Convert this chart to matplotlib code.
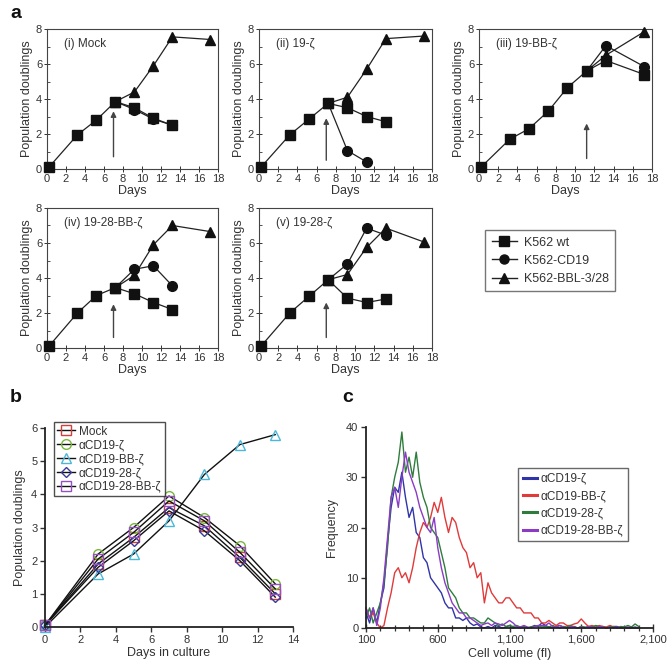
import numpy as np
import matplotlib.pyplot as plt
from matplotlib.lines import Line2D
from matplotlib.ticker import MultipleLocator

plt.rcParams['font.family'] = ['Liberation Sans', 'DejaVu Sans']
plt.rcParams['text.color'] = '#333333'
plt.rcParams['axes.labelcolor'] = '#333333'
plt.rcParams['xtick.color'] = '#333333'
plt.rcParams['ytick.color'] = '#333333'
plt.rcParams['mathtext.fontset'] = 'dejavusans'

# ---- panel a: population doublings per CAR construct ----
days = [0.2, 3.2, 5.2, 7.2, 9.2, 11.2, 13.2, 17.2]

mock_wt = [0.1, 1.95, 2.8, 3.85, 3.5, 2.9, 2.5]
mock_cd19 = [3.85, 3.4, 2.85, 2.5]
mock_bbl = [3.85, 4.4, 5.9, 7.55, 7.4]

z_wt = [0.1, 1.95, 2.85, 3.75, 3.5, 3.0, 2.7]
z_cd19 = [3.75, 1.05, 0.4]
z_bbl = [3.75, 4.1, 5.7, 7.45, 7.6]

bbz_wt = [0.1, 1.7, 2.3, 3.3, 4.65, 5.6, 6.2, 5.4]
bbz_cd19 = [5.6, 7.05, 5.85]
bbz_bbl = [5.6, 6.5, 7.85]

bbz28_wt = [0.1, 2.0, 3.0, 3.45, 3.1, 2.6, 2.2]
bbz28_cd19 = [3.45, 4.5, 4.7, 3.55]
bbz28_bbl = [3.45, 4.15, 5.9, 7.0, 6.65]

z28_wt = [0.1, 2.0, 2.95, 3.9, 2.85, 2.6, 2.8]
z28_cd19 = [3.9, 4.8, 6.85, 6.45]
z28_bbl = [3.9, 4.2, 5.75, 6.85, 6.05]

panel_titles = ['(i) Mock', '(ii) 19-ζ', '(iii) 19-BB-ζ', '(iv) 19-28-BB-ζ', '(v) 19-28-ζ']
arrow_days = [7.0, 7.0, 11.2, 7.0, 7.0]
arrow_ranges = [(0.7, 3.3), (0.5, 2.9), (0.6, 2.6), (0.6, 2.5), (0.6, 2.6)]
legend_a = ['K562 wt', 'K562-CD19', 'K562-BBL-3/28']

# ---- panel b ----
b_days = [0, 3, 5, 7, 9, 11, 13]
b_mock = [0.05, 1.9, 2.7, 3.6, 3.05, 2.1, 1.0]
b_z = [0.05, 2.2, 3.0, 3.95, 3.3, 2.45, 1.3]
b_bbz = [0.0, 1.6, 2.2, 3.2, 4.6, 5.5, 5.8]
b_28z = [0.05, 1.8, 2.6, 3.5, 2.9, 2.0, 0.9]
b_28bbz = [0.05, 2.05, 2.85, 3.8, 3.2, 2.25, 1.15]
b_labels = ['Mock', 'αCD19-ζ', 'αCD19-BB-ζ', 'αCD19-28-ζ', 'αCD19-28-BB-ζ']

# ---- panel c: cell volume histograms (25 fl bins, 100..2000) ----
volume = np.arange(100, 2001, 25)
c_z = [3, 1, 4, 1, 5, 8, 17, 24, 28, 27,
       31, 26, 22, 24, 19, 18, 14, 13, 10, 9,
       8, 7, 5, 4, 4, 2, 2, 1.5, 2, 1,
       0.5, 0.8, 0.2, 0, 0.3, 0, 0.5, 0.3, 0, 0.2,
       0.5, 0, 0.2, 0, 0.3, 0, 0.2, 0.5, 0.3, 1,
       0.5, 0.2, 0, 0.3, 0.5, 0.2, 0, 0.2, 0.3, 0,
       0.2, 0, 0.3, 0.2, 0, 0.2, 0.3, 0, 0.2, 0.3,
       0.3, 0, 0.2, 0, 0, 0.2, 0]
c_bbz = [4, 2, 3, 1, 0, 0.5, 4, 7, 11, 12,
         10, 11, 9, 12, 16, 19, 21, 20, 22, 25,
         23, 26, 22, 19, 22, 21, 18, 16, 15, 12,
         13, 10, 11, 5, 9, 7, 6, 5, 5, 6,
         6, 5, 4, 4, 3, 3, 3, 2, 2, 1,
         1, 1.5, 1, 0.5, 1, 1, 0.5, 0.5, 0.8, 1,
         1.8, 1, 0.3, 0.5, 0.2, 0.5, 0.3, 0.2, 0.5, 0.2,
         0, 0.2, 0, 0, 0.2, 0, 0]
c_28z = [2, 4, 1, 3, 5, 9, 16, 26, 30, 33,
         39, 31, 34, 30, 35, 29, 26, 24, 20, 19,
         18, 15, 12, 8, 7, 6, 4, 3, 3, 2,
         2, 1.5, 1, 1, 2, 1.5, 1, 0.5, 0.8, 0.3,
         0.5, 0.3, 0.5, 0.2, 0.3, 0, 0.2, 0.3, 0.5, 0.2,
         0.3, 0.2, 0.5, 0.2, 0, 0.3, 0.2, 0.5, 0.2, 0,
         0.3, 0.2, 0, 0.2, 0.5, 0.3, 0.2, 0, 0.3, 0.2,
         0, 0.3, 0.2, 0.5, 0.2, 0.8, 0.3]
c_28bbz = [4, 2, 4, 0.5, 4, 10, 18, 26, 28, 24,
           30, 35, 31, 29, 27, 24, 22, 20, 19, 22,
           16, 12, 9, 7, 5, 4, 3, 3, 2, 2,
           1.5, 1, 0.5, 0.8, 1, 0.5, 1, 0.8, 0.5, 1,
           1.5, 1, 0.3, 0.2, 0.5, 0.2, 0, 0.3, 0.5, 0.5,
           0.5, 1, 0.3, 0.2, 0.5, 0.2, 0, 0.3, 0.2, 0,
           0.2, 0, 0.3, 0.2, 0, 0.3, 0.2, 0, 0.2, 0,
           0.2, 0, 0, 0.2, 0, 0, 0]
c_labels = ['αCD19-ζ', 'αCD19-BB-ζ', 'αCD19-28-ζ', 'αCD19-28-BB-ζ']
c_colors = ['#2f35a8', '#e03a3a', '#2f7d3c', '#8a3cc4']

fig = plt.figure(figsize=(6.67, 6.66), dpi=100)

W, H = 667.0, 666.0


def add_ax(x0, y0, x1, y1):
    # pixel box -> figure fraction
    return fig.add_axes([x0 / W, 1 - y1 / H, (x1 - x0) / W, (y1 - y0) / H])


boxes = [(47, 29, 218, 169), (259, 29, 432, 169), (479, 29, 652, 169),
         (47, 208, 218, 348), (259, 208, 432, 348)]
panel_data = [(mock_wt, mock_cd19, mock_bbl, 3),
              (z_wt, z_cd19, z_bbl, 3),
              (bbz_wt, bbz_cd19, bbz_bbl, 5),
              (bbz28_wt, bbz28_cd19, bbz28_bbl, 3),
              (z28_wt, z28_cd19, z28_bbl, 3)]

for box, (wt, cd19, bbl, start), title, ad, (ya, yb) in zip(
        boxes, panel_data, panel_titles, arrow_days, arrow_ranges):
    ax = add_ax(*box)
    lw = 0.9
    ax.plot(days[start:start + len(bbl)], bbl, color='#222222', lw=lw,
            marker='^', ms=6.5, mfc='#111111', mec='#111111', clip_on=False, zorder=3)
    ax.plot(days[start:start + len(cd19)], cd19, color='#222222', lw=lw,
            marker='o', ms=7, mfc='#111111', mec='#111111', clip_on=False, zorder=3)
    ax.plot(days[:len(wt)], wt, color='#222222', lw=lw,
            marker='s', ms=7.5, mfc='#111111', mec='#111111', clip_on=False, zorder=4)
    ax.annotate('', xy=(ad, yb), xytext=(ad, ya),
                arrowprops=dict(arrowstyle='-|>', color='#444444', lw=1.0,
                                mutation_scale=8, shrinkA=0, shrinkB=0))
    ax.text(1.8, 7.15, title, fontsize=8.5, va='center')
    ax.set_xlim(0, 18)
    ax.set_ylim(0, 8)
    ax.set_xticks(range(0, 19, 2))
    ax.set_yticks(range(0, 9, 2))
    ax.yaxis.set_minor_locator(MultipleLocator(1))
    ax.tick_params(labelsize=8, direction='inout', length=4, width=0.7, pad=1.5)
    ax.tick_params(which='minor', direction='in', length=2, width=0.6)
    for s in ax.spines.values():
        s.set_linewidth(0.8)
        s.set_color('#444444')
    ax.set_xlabel('Days', fontsize=9, labelpad=0.5)
    ax.set_ylabel('Population doublings', fontsize=9, labelpad=2)

handles_a = [Line2D([], [], color='#222222', lw=1, marker=m, ms=ms, mfc='#111111', mec='#111111')
             for m, ms in [('s', 7), ('o', 6.5), ('^', 6.5)]]
fig.legend(handles_a, legend_a, loc='upper left', bbox_to_anchor=(479 / W, 1 - 224 / H),
           fontsize=9, frameon=True, fancybox=False, edgecolor='#555555',
           handlelength=2.0, labelspacing=0.5, borderpad=0.5, handletextpad=0.6)

# ---- panel b ----
axb = add_ax(45, 428, 293, 627)
b_series = [b_mock, b_z, b_bbz, b_28z, b_28bbz]
b_markers = ['s', 'o', '^', 'D', 's']
b_ms = [6.5, 7, 6.5, 5.5, 7]
b_colors = ['#d0403c', '#7ab83c', '#4cb8d8', '#3a3a9a', '#9650c0']
for ys, m, ms, c, lab in zip(b_series, b_markers, b_ms, b_colors, b_labels):
    axb.plot(b_days, ys, color='#111111', lw=1.0, marker=m, ms=ms,
             mfc='none', mec=c, mew=1.0, label=lab, clip_on=False)
axb.set_xlim(0, 14)
axb.set_ylim(0, 6)
axb.set_xticks(range(0, 15, 2))
axb.set_yticks(range(0, 7))
axb.spines['top'].set_visible(False)
axb.spines['right'].set_visible(False)
for s in ('left', 'bottom'):
    axb.spines[s].set_linewidth(1.3)
    axb.spines[s].set_color('#222222')
axb.tick_params(labelsize=8, direction='out', length=3.5, width=1.0, pad=2)
axb.set_xlabel('Days in culture', fontsize=9, labelpad=2)
axb.set_ylabel('Population doublings', fontsize=9, labelpad=4)
axb.legend(loc='upper left', bbox_to_anchor=(0.036, 1.03), borderaxespad=0,
           fontsize=8.5, frameon=True, fancybox=False, edgecolor='#222222',
           handlelength=1.5, labelspacing=0.15, borderpad=0.3, handletextpad=0.3)

# ---- panel c ----
axc = add_ax(366, 427, 653, 628)
for ys, c, lab in zip([c_z, c_bbz, c_28z, c_28bbz], c_colors, c_labels):
    axc.plot(volume, ys, color=c, lw=1.0, label=lab, clip_on=False)
axc.set_xlim(100, 2100)
axc.set_ylim(0, 40)
axc.set_xticks([100, 600, 1100, 1600, 2100])
axc.set_xticklabels(['100', '600', '1,100', '1,600', '2,100'])
axc.xaxis.set_minor_locator(MultipleLocator(100))
axc.set_yticks(range(0, 41, 10))
axc.spines['top'].set_visible(False)
axc.spines['right'].set_visible(False)
for s in ('left', 'bottom'):
    axc.spines[s].set_linewidth(1.3)
    axc.spines[s].set_color('#222222')
axc.tick_params(labelsize=8, direction='out', length=3.5, width=1.0, pad=2)
axc.tick_params(axis='x', which='major', direction='inout', length=6)
axc.tick_params(axis='x', which='minor', direction='inout', length=4, width=0.9)
axc.set_xlabel('Cell volume (fl)', fontsize=9, labelpad=2)
axc.set_ylabel('Frequency', fontsize=9, labelpad=6)
axc.legend(loc='upper left', bbox_to_anchor=(0.53, 0.796), borderaxespad=0,
           fontsize=8.5, frameon=True, fancybox=False, edgecolor='#444444',
           handlelength=1.2, labelspacing=0.45, borderpad=0.4, handletextpad=0.3)
for line in axc.get_legend().get_lines():
    line.set_linewidth(2.2)

fig.text(10 / W, 1 - 13 / H, 'a', fontsize=14, fontweight='bold', va='center', color='#111111')
fig.text(10 / W, 1 - 397 / H, 'b', fontsize=14, fontweight='bold', va='center', color='#111111')
fig.text(342 / W, 1 - 397 / H, 'c', fontsize=14, fontweight='bold', va='center', color='#111111')

fig.savefig('out.png', dpi=100)
